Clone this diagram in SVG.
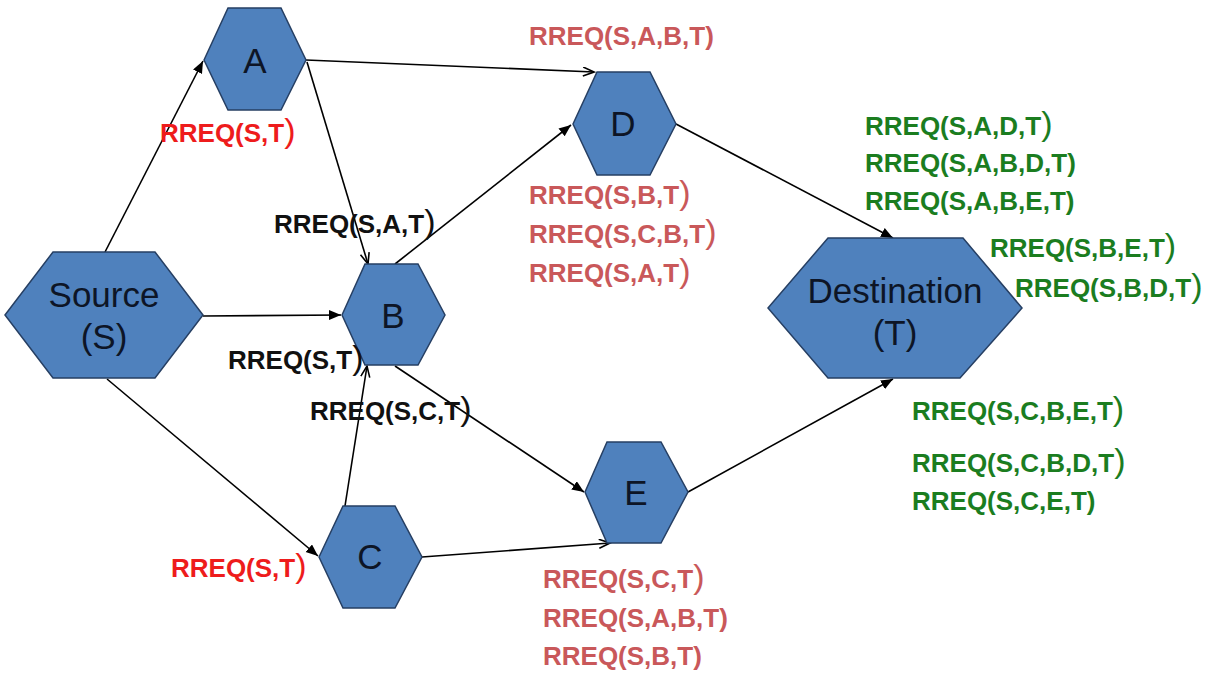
<svg xmlns="http://www.w3.org/2000/svg" width="1208" height="679" viewBox="0 0 1208 679">
  <style>
    .hex { fill: #4f81bd; stroke: #263f63; stroke-width: 1.5; }
    .nlabel { font-family: "Liberation Sans", Arial, sans-serif; font-size: 35px; fill: #0d1526; text-anchor: middle; }
    .edge { fill: none; stroke: #000; stroke-width: 1.6; }
    .filled { marker-end: url(#arrowFilled); }
    .open { marker-end: url(#arrowOpen); }
    .msg { font-family: "Liberation Sans", Arial, sans-serif; font-size: 26px; font-weight: bold; }
    .msg .p { font-size: 34px; font-weight: normal; }
    .red { fill: #ee1c1c; }
    .rose { fill: #c9585a; }
    .black { fill: #111; }
    .green { fill: #1b7d1f; }
  </style>
  <defs>
    <marker id="arrowFilled" markerUnits="userSpaceOnUse" markerWidth="14" markerHeight="12" refX="12" refY="5" orient="auto">
      <path d="M0,0 L12,5 L0,10 Z" fill="#000"/>
    </marker>
    <marker id="arrowOpen" markerUnits="userSpaceOnUse" markerWidth="14" markerHeight="12" refX="12" refY="5" orient="auto">
      <path d="M1,0.5 L12,5 L1,9.5" fill="none" stroke="#000" stroke-width="1.6"/>
    </marker>
  </defs>
  <rect width="1208" height="679" fill="#fff"/>

  <!-- connectors -->
  <g id="connectors">
    <line class="edge filled" x1="105" y1="252" x2="203" y2="61"/>
    <line class="edge open" x1="306" y1="60" x2="594" y2="72"/>
    <line class="edge open" x1="307" y1="62" x2="368" y2="264"/>
    <line class="edge filled" x1="395" y1="264" x2="571" y2="125"/>
    <line class="edge filled" x1="203" y1="316" x2="341" y2="315"/>
    <line class="edge filled" x1="107" y1="379" x2="318" y2="556"/>
    <line class="edge open" x1="345" y1="506" x2="367" y2="366"/>
    <line class="edge filled" x1="395" y1="366" x2="584" y2="492"/>
    <line class="edge open" x1="422" y1="557" x2="610" y2="543"/>
    <line class="edge filled" x1="676" y1="124" x2="893" y2="238"/>
    <line class="edge filled" x1="688" y1="492" x2="893" y2="379"/>
  </g>

  <!-- nodes -->
  <g id="node-source">
    <polygon class="hex" points="5,315 53,252 155,252 203,315 155,378 53,378"/>
    <text class="nlabel" x="104" y="307">Source</text>
    <text class="nlabel" x="104" y="349">(S)</text>
  </g>
  <g id="node-a">
    <polygon class="hex" points="204,60 228,8 281,8 306,60 281,110 228,110"/>
    <text class="nlabel" x="255" y="73">A</text>
  </g>
  <g id="node-b">
    <polygon class="hex" points="342,315 365,264 418,264 445,315 418,365 365,365"/>
    <text class="nlabel" x="393" y="328">B</text>
  </g>
  <g id="node-c">
    <polygon class="hex" points="319,557 343,506 395,506 422,557 395,608 343,608"/>
    <text class="nlabel" x="370" y="569">C</text>
  </g>
  <g id="node-d">
    <polygon class="hex" points="573,124 597,72 650,72 676,124 650,175 597,175"/>
    <text class="nlabel" x="623" y="136">D</text>
  </g>
  <g id="node-e">
    <polygon class="hex" points="585,492 607,442 661,442 688,492 661,543 607,543"/>
    <text class="nlabel" x="636" y="505">E</text>
  </g>
  <g id="node-t">
    <polygon class="hex" points="768,308 828,238 963,238 1022,308 960,378 828,378"/>
    <text class="nlabel" x="895" y="303">Destination</text>
    <text class="nlabel" x="895" y="345">(T)</text>
  </g>

  <!-- route request labels -->
  <g id="labels">
    <text class="msg red" x="160" y="142">RREQ(S,T<tspan class="p">)</tspan></text>
    <text class="msg red" x="171" y="577">RREQ(S,T<tspan class="p">)</tspan></text>

    <text class="msg black" x="274" y="233">RREQ(S,A,T<tspan class="p">)</tspan></text>
    <text class="msg black" x="228" y="369">RREQ(S,T<tspan class="p">)</tspan></text>
    <text class="msg black" x="310" y="420">RREQ(S,C,T<tspan class="p">)</tspan></text>

    <text class="msg rose" x="529" y="45">RREQ(S,A,B,T)</text>
    <text class="msg rose" x="529" y="204">RREQ(S,B,T<tspan class="p">)</tspan></text>
    <text class="msg rose" x="529" y="243">RREQ(S,C,B,T<tspan class="p">)</tspan></text>
    <text class="msg rose" x="529" y="282">RREQ(S,A,T<tspan class="p">)</tspan></text>

    <text class="msg rose" x="543" y="588">RREQ(S,C,T<tspan class="p">)</tspan></text>
    <text class="msg rose" x="543" y="627">RREQ(S,A,B,T)</text>
    <text class="msg rose" x="543" y="665">RREQ(S,B,T)</text>

    <text class="msg green" x="865" y="135">RREQ(S,A,D,T<tspan class="p">)</tspan></text>
    <text class="msg green" x="865" y="172">RREQ(S,A,B,D,T)</text>
    <text class="msg green" x="865" y="210">RREQ(S,A,B,E,T)</text>
    <text class="msg green" x="990" y="257">RREQ(S,B,E,T<tspan class="p">)</tspan></text>
    <text class="msg green" x="1015" y="297">RREQ(S,B,D,T<tspan class="p">)</tspan></text>

    <text class="msg green" x="912" y="420">RREQ(S,C,B,E,T<tspan class="p">)</tspan></text>
    <text class="msg green" x="912" y="472">RREQ(S,C,B,D,T<tspan class="p">)</tspan></text>
    <text class="msg green" x="912" y="510">RREQ(S,C,E,T)</text>
  </g>
</svg>
